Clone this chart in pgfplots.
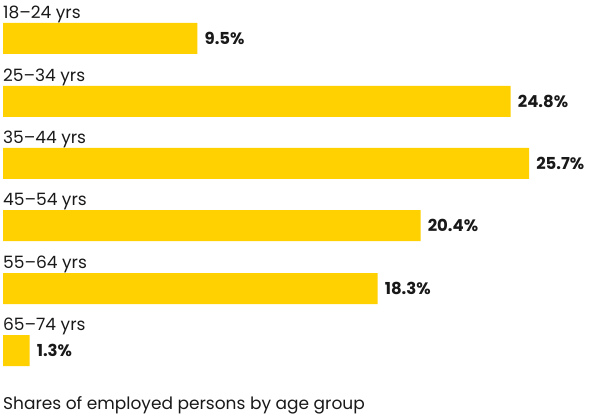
\documentclass[border=0pt]{standalone}
\usepackage{pgfplots}
\pgfplotsset{compat=1.18}
\usepackage{pgfplotstable}
\usepackage{fontspec}
\setmainfont{Poppins}
\definecolor{baryellow}{RGB}{255,209,0}
\definecolor{txt}{RGB}{25,25,25}
\pgfplotstableread[col sep=comma]{
y,value,ly,zero,label
38.5,9.5,18.3,0,18–24 yrs
101.5,24.8,81.3,0,25–34 yrs
163.5,25.7,143.3,0,35–44 yrs
225.5,20.4,205.3,0,45–54 yrs
288.5,18.3,268.3,0,55–64 yrs
350.5,1.3,330.3,0,65–74 yrs
}\data
\begin{document}
\begin{tikzpicture}
\begin{axis}[
  width=600pt, height=417pt, scale only axis,
  xmin=-0.1466, xmax=29.165, ymin=0, ymax=417,
  y dir=reverse, hide axis, clip=false,
]
\addplot[xbar, bar width=31pt, fill=baryellow, draw=none,
  nodes near coords={\bfseries\pgfmathprintnumber[fixed,precision=1,fixed zerofill,assume math mode=true]{\pgfplotspointmeta}\%},
  nodes near coords style={anchor=west, inner sep=0pt, xshift=7pt, text=txt, font=\fontsize{16.5}{19}\selectfont},
] table[x=value, y=y] {\data};
\addplot[draw=none, mark=none, point meta=explicit symbolic,
  nodes near coords={\pgfplotspointmeta},
  nodes near coords style={anchor=base west, inner sep=0pt, text=txt, font=\fontsize{17}{20}\selectfont},
] table[x=zero, y=ly, meta=label] {\data};
\node[anchor=base west, inner sep=0pt, text=txt, font=\fontsize{17}{20}\selectfont] at (axis cs:0,409) {Shares of employed persons by age group};
\path (rel axis cs:0,0) rectangle (rel axis cs:1,1);
\end{axis}
\end{tikzpicture}
\end{document}
